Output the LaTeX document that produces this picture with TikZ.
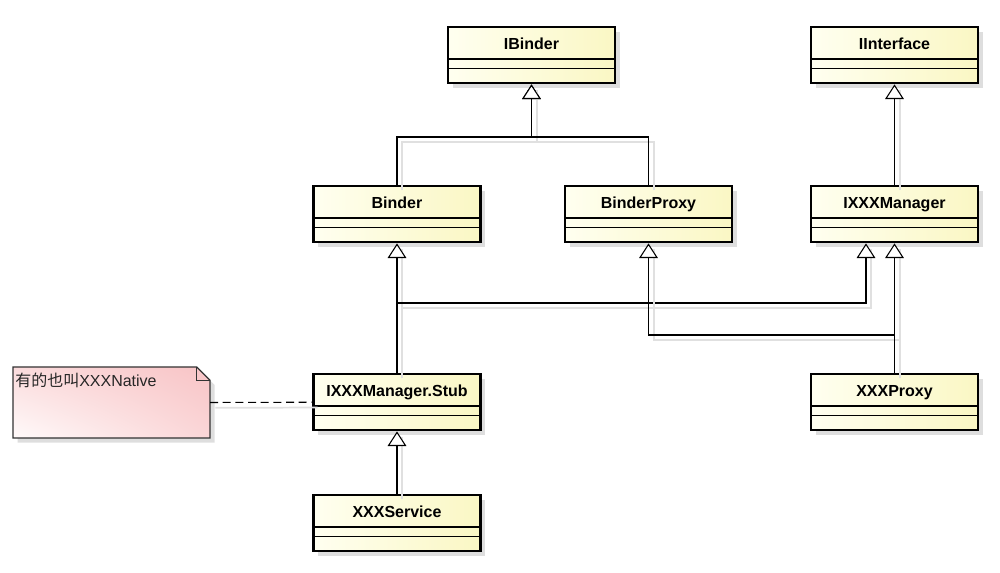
\documentclass[tikz,border=0pt]{standalone}
\usepackage{fontspec}
\setmainfont{Liberation Sans}
\newfontfamily\cjk{Noto Sans CJK SC}
\usepackage{tikz}
\usetikzlibrary{arrows.meta,shadows,shadings,positioning,calc}

\definecolor{classleft}{RGB}{255,255,240}
\definecolor{classright}{RGB}{250,247,196}
\definecolor{noteleft}{RGB}{255,250,250}
\definecolor{noteright}{RGB}{248,196,198}

\begin{document}
\begin{tikzpicture}[
    x=0.75pt, y=-0.75pt,
    umlclass/.style={draw, line width=1.8pt, anchor=north,
        minimum width=125.25pt, inner xsep=0pt, inner ysep=0pt,
        text height=16.5pt, text depth=25.5pt,
        font=\fontsize{12}{14}\selectfont\bfseries,
        left color=classleft, right color=classright,
        drop shadow={shadow xshift=3.5pt, shadow yshift=-3.5pt, fill=black!13, opacity=1},
        path picture={
            \draw[line width=1pt] ([yshift=-23.8pt]path picture bounding box.north west) -- ([yshift=-23.8pt]path picture bounding box.north east);
            \draw[line width=1pt] ([yshift=-31pt]path picture bounding box.north west) -- ([yshift=-31pt]path picture bounding box.north east);
        }},
    lineshadow/.style={preaction={draw=black!12, line width=1.3pt, arrows=-, transform canvas={shift={(4pt,-4pt)}}}},
    gen/.style={-{Triangle[open, width=14pt, length=11pt, fill=white]}, line width=0.8pt, lineshadow},
    notelink/.style={dash pattern=on 6pt off 3.5pt, line width=0.8pt, lineshadow},
    notebox/.style={anchor=north west, minimum width=147.75pt, minimum height=53.25pt, inner sep=0pt, outer sep=0pt}
]
    \useasboundingbox (0,0) rectangle (1000,573);

    % classes
    \node[umlclass] (ibinder) at (531.5,26) {IBinder};
    \node[umlclass] (iinterface) at (894.5,26) {IInterface};
    \node[umlclass] (binder) at (397,185) {Binder};
    \node[umlclass] (bproxy) at (648.5,185) {BinderProxy};
    \node[umlclass] (mgr) at (894.5,185) {IXXXManager};
    \node[umlclass] (stub) at (397,373) {IXXXManager.Stub};
    \node[umlclass] (xproxy) at (894.5,373) {XXXProxy};
    \node[umlclass] (service) at (397,494) {XXXService};

    % note
    \node[notebox] (note) at (13,367) {};
    \fill[black!13, transform canvas={shift={(3.5pt,-3.5pt)}}] (note.north west) -- ([xshift=-10pt]note.north east) -- ([yshift=-10pt]note.north east) -- (note.south east) -- (note.south west) -- cycle;
    \shade[lower left=noteleft, upper right=noteright, upper left=noteright!60!white, lower right=noteright!70!white, draw=black!80, line width=0.9pt]
        (note.north west) -- ([xshift=-10pt]note.north east) -- ([yshift=-10pt]note.north east) -- (note.south east) -- (note.south west) -- cycle;
    \draw[black!80, line width=0.9pt] ([xshift=-10pt]note.north east) -- ++(0,-10pt) -- ([yshift=-10pt]note.north east);
    \node[anchor=north west, inner sep=0pt, font=\fontsize{12}{14}\selectfont, text=black!85] (notetext)
        at ([shift={(1.5pt,-4.5pt)}]note.north west) {{\cjk 有的也叫}XXXNative};

    % junctions
    \coordinate (j1) at (531.5,137);
    \coordinate (j2) at (866,303);
    \coordinate (j3) at (648.5,335);

    % generalizations
    \draw[gen] (binder.north) |- (j1) -- (ibinder.south);
    \draw[gen] (bproxy.north) |- (j1) -- (ibinder.south);
    \draw[gen] (mgr.north) -- (iinterface.south);
    \draw[gen] (stub.north) -- (binder.south);
    \draw[gen] (stub.north) |- (j2) -- (j2 |- mgr.south);
    \draw[gen] (xproxy.north) |- (j3) -- (bproxy.south);
    \draw[gen] (xproxy.north) -- (mgr.south);
    \draw[gen] (service.north) -- (stub.south);

    \draw[notelink] (note.east) -- (stub.west);
\end{tikzpicture}
\end{document}
